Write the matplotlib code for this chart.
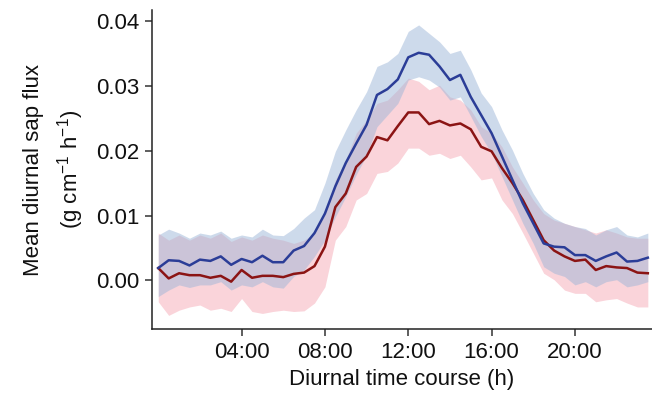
import matplotlib
matplotlib.use('Agg')
import matplotlib.pyplot as plt

plt.rcParams['font.family'] = ['Liberation Sans', 'DejaVu Sans']
plt.rcParams['mathtext.fontset'] = 'custom'
plt.rcParams['mathtext.rm'] = 'Liberation Sans'
plt.rcParams['mathtext.it'] = 'Liberation Sans'

# time of day in hours (half-hourly)
hours = [0, 0.5, 1, 1.5, 2, 2.5, 3, 3.5, 4, 4.5, 5, 5.5, 6, 6.5, 7, 7.5,
         8, 8.5, 9, 9.5, 10, 10.5, 11, 11.5, 12, 12.5, 13, 13.5, 14, 14.5, 15, 15.5,
         16, 16.5, 17, 17.5, 18, 18.5, 19, 19.5, 20, 20.5, 21, 21.5, 22, 22.5, 23, 23.5]

blue_mean = [0.0019, 0.0031, 0.0030, 0.0023, 0.0032, 0.0030, 0.0037, 0.0024, 0.0033, 0.0028, 0.0038, 0.0028,
             0.0028, 0.0046, 0.0053, 0.0073, 0.0103, 0.0145, 0.0181, 0.0211, 0.0240, 0.0286, 0.0295, 0.0310,
             0.0344, 0.0351, 0.0348, 0.0330, 0.0309, 0.0317, 0.0283, 0.0255, 0.0227, 0.0191, 0.0155, 0.0119,
             0.0088, 0.0057, 0.0052, 0.0051, 0.0039, 0.0039, 0.0030, 0.0037, 0.0043, 0.0029, 0.0030, 0.0035]
blue_hi = [0.0070, 0.0079, 0.0073, 0.0065, 0.0073, 0.0070, 0.0076, 0.0065, 0.0070, 0.0067, 0.0079, 0.0070,
           0.0069, 0.0080, 0.0096, 0.0109, 0.0150, 0.0199, 0.0232, 0.0263, 0.0291, 0.0330, 0.0337, 0.0350,
           0.0384, 0.0394, 0.0381, 0.0368, 0.0350, 0.0355, 0.0325, 0.0289, 0.0268, 0.0232, 0.0201, 0.0165,
           0.0134, 0.0109, 0.0096, 0.0088, 0.0083, 0.0080, 0.0070, 0.0078, 0.0083, 0.0070, 0.0067, 0.0073]
blue_lo = [-0.0025, -0.0015, -0.0007, -0.0011, -0.0007, -0.0007, -0.0002, -0.0015, -0.0007, -0.0010, -0.0002, -0.0010,
           -0.0012, 0.0006, 0.0016, 0.0037, 0.0062, 0.0098, 0.0129, 0.0163, 0.0193, 0.0237, 0.0255, 0.0273,
           0.0309, 0.0314, 0.0309, 0.0298, 0.0278, 0.0283, 0.0253, 0.0222, 0.0196, 0.0160, 0.0124, 0.0088,
           0.0057, 0.0021, 0.0011, 0.0006, -0.0007, -0.0002, -0.0010, -0.0002, 0.0001, -0.0010, -0.0007, -0.0002]

red_mean = [0.0019, 0.0003, 0.0011, 0.0008, 0.0008, 0.0004, 0.0007, -0.0002, 0.0016, 0.0004, 0.0007, 0.0007,
            0.0005, 0.0010, 0.0012, 0.0022, 0.0052, 0.0113, 0.0134, 0.0175, 0.0191, 0.0221, 0.0216, 0.0238,
            0.0259, 0.0259, 0.0241, 0.0246, 0.0239, 0.0242, 0.0233, 0.0206, 0.0199, 0.0173, 0.0150, 0.0124,
            0.0093, 0.0062, 0.0046, 0.0037, 0.0030, 0.0032, 0.0016, 0.0022, 0.0020, 0.0019, 0.0012, 0.0011]
red_hi = [0.0073, 0.0062, 0.0070, 0.0062, 0.0070, 0.0065, 0.0073, 0.0060, 0.0067, 0.0062, 0.0070, 0.0065,
          0.0062, 0.0057, 0.0062, 0.0073, 0.0103, 0.0155, 0.0186, 0.0227, 0.0247, 0.0273, 0.0278, 0.0294,
          0.0312, 0.0307, 0.0294, 0.0301, 0.0283, 0.0278, 0.0263, 0.0237, 0.0227, 0.0206, 0.0175, 0.0150,
          0.0124, 0.0103, 0.0093, 0.0088, 0.0083, 0.0078, 0.0073, 0.0078, 0.0073, 0.0067, 0.0065, 0.0065]
red_lo = [-0.0033, -0.0054, -0.0046, -0.0041, -0.0038, -0.0046, -0.0043, -0.0048, -0.0028, -0.0048, -0.0051, -0.0048,
          -0.0046, -0.0048, -0.0047, -0.0035, -0.0010, 0.0062, 0.0083, 0.0124, 0.0134, 0.0165, 0.0168, 0.0181,
          0.0204, 0.0204, 0.0193, 0.0196, 0.0188, 0.0193, 0.0175, 0.0155, 0.0158, 0.0124, 0.0103, 0.0073,
          0.0042, 0.0011, 0.0001, -0.0015, -0.0020, -0.0020, -0.0033, -0.0030, -0.0028, -0.0035, -0.0041, -0.0041]

tick_hours = [4, 8, 12, 16, 20]
tick_labels = ['04:00', '08:00', '12:00', '16:00', '20:00']

fig = plt.figure(figsize=(6.52, 3.98), dpi=100)
ax = fig.add_axes([152 / 652, 69 / 398, 500 / 652, 319 / 398])

ax.fill_between(hours, red_lo, red_hi, color='#F4A0AE', alpha=0.45, lw=0)
ax.fill_between(hours, blue_lo, blue_hi, color='#9DB6D8', alpha=0.5, lw=0)
ax.plot(hours, red_mean, color='#8B1414', lw=1.8)
ax.plot(hours, blue_mean, color='#2B3D97', lw=1.8)

ax.set_xlim(-0.3, 23.7)
ax.set_ylim(-0.0075, 0.0417)
ax.set_xticks(tick_hours)
ax.set_xticklabels(tick_labels)
ax.set_yticks([0, 0.01, 0.02, 0.03, 0.04])
ax.set_yticklabels(['0.00', '0.01', '0.02', '0.03', '0.04'])

for s in ['top', 'right']:
    ax.spines[s].set_visible(False)
for s in ['left', 'bottom']:
    ax.spines[s].set_linewidth(1.1)
    ax.spines[s].set_color('#222222')
ax.tick_params(length=5, width=1.1, color='#333333', labelsize=16, labelcolor='#111111')
ax.tick_params(axis='y', pad=4)
ax.tick_params(axis='x', pad=4)

ax.set_xlabel('Diurnal time course (h)', fontsize=16, color='#111111', labelpad=5)
ax.set_ylabel('Mean diurnal sap flux\n(g cm$^{-1}$ h$^{-1}$)', fontsize=16, color='#111111',
              labelpad=7, linespacing=1.5)

fig.savefig('out.png', dpi=100)
